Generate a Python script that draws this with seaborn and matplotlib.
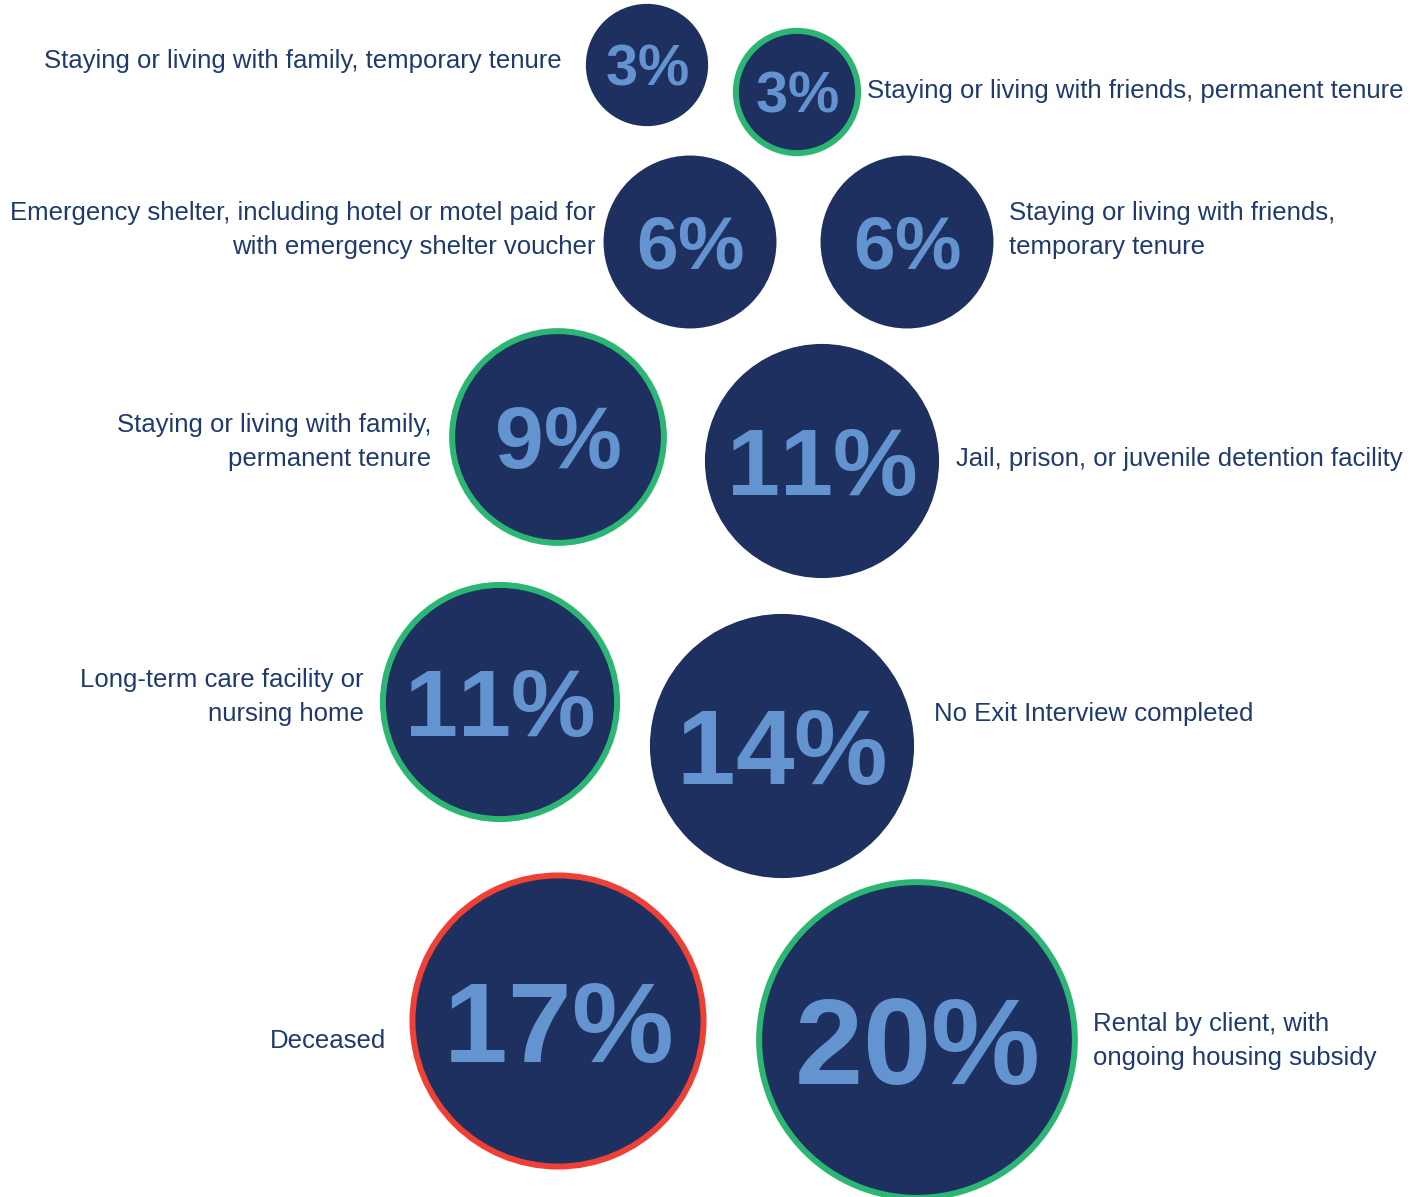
import numpy as np
import pandas as pd
import matplotlib
matplotlib.use("Agg")
import matplotlib.pyplot as plt
import seaborn as sns

# Exit destinations and their share of exits (percent)
destinations = [
    "Staying or living with family, temporary tenure",
    "Staying or living with friends, permanent tenure",
    "Emergency shelter, including hotel or motel paid for\nwith emergency shelter voucher",
    "Staying or living with friends,\ntemporary tenure",
    "Staying or living with family,\npermanent tenure",
    "Jail, prison, or juvenile detention facility",
    "Long-term care facility or\nnursing home",
    "No Exit Interview completed",
    "Deceased",
    "Rental by client, with\nongoing housing subsidy",
]
shares = [3, 3, 6, 6, 9, 11, 11, 14, 17, 20]
# Outcome type: "good" (permanent), "bad" (death), "none" (neutral)
outcome = ["none", "good", "none", "none", "good", "none", "good", "none", "bad", "good"]

# Layout of the bubbles on the page (pixel grid, y grows downward)
bubble_x = [647, 797, 690, 907, 558, 822, 500, 782, 558, 917]
bubble_y = [65, 92, 242, 242, 437, 461, 702, 746, 1021, 1040]
label_side = ["left", "right", "left", "right", "left", "right", "left", "right", "left", "right"]
label_y = [61, 91, 230, 230, 442, 459, 697, 714, 1041, 1041]
label_gap = [24, 9, 8, 16, 21, 17, 19, 20, 26, 18]

W, H, DPI = 1422, 1197, 100
NAVY = "#1e3060"
LIGHT = "#6394cf"
LABEL = "#1f3a6e"
RING = {"good": "#2cb673", "bad": "#ee4035", "none": NAVY}

K = 35.3  # radius in px per sqrt(percent)
PX2PT = 72 / DPI
max_share = max(shares)
s_max = (2 * K * np.sqrt(max_share) * PX2PT) ** 2

# Advance widths (em) of the bold glyphs, set without pair kerning
ADVANCE = {d: 0.556 for d in "0123456789"}
ADVANCE["%"] = 0.889

df = pd.DataFrame({"x": bubble_x, "y": bubble_y, "share": shares, "outcome": outcome})

sns.set_theme(style="white")
plt.rcParams["font.family"] = ["Liberation Sans", "DejaVu Sans"]

fig = plt.figure(figsize=(W / DPI, H / DPI), dpi=DPI)
ax = fig.add_axes([0, 0, 1, 1])

edge_cols = [RING[o] for o in outcome]
edge_w = [4.3 if o != "none" else 0.0 for o in outcome]

sns.scatterplot(
    data=df, x="x", y="y", size="share",
    sizes=(0, s_max), size_norm=(0, max_share),
    color=NAVY, edgecolor=edge_cols, linewidth=edge_w,
    legend=False, ax=ax, clip_on=False,
)
ax.set_xlim(0, W)
ax.set_ylim(H, 0)
ax.set_axis_off()

for i, v in enumerate(shares):
    r = K * np.sqrt(v)
    cap = 0.48 * r + 12          # cap height of the percentage, px
    em = cap / 0.716             # em size, px
    fs = em * PX2PT              # font size in points
    label = f"{v}%"
    total = sum(ADVANCE[c] for c in label) * em
    x0 = bubble_x[i] - total / 2
    for c in label:
        adv = ADVANCE[c] * em
        ax.text(x0 + adv / 2, bubble_y[i] + cap / 2, c,
                ha="center", va="baseline", fontsize=fs, fontweight="bold",
                color=LIGHT, zorder=5)
        x0 += adv

    if label_side[i] == "left":
        lx = bubble_x[i] - r - label_gap[i]
        ha = "right"
    else:
        lx = bubble_x[i] + r + label_gap[i]
        ha = "left"
    ax.text(lx, label_y[i], destinations[i], ha=ha, va="center",
            multialignment=ha, fontsize=18.5, color=LABEL,
            linespacing=1.52, zorder=5)

fig.savefig("out.png", dpi=DPI, facecolor="white")
